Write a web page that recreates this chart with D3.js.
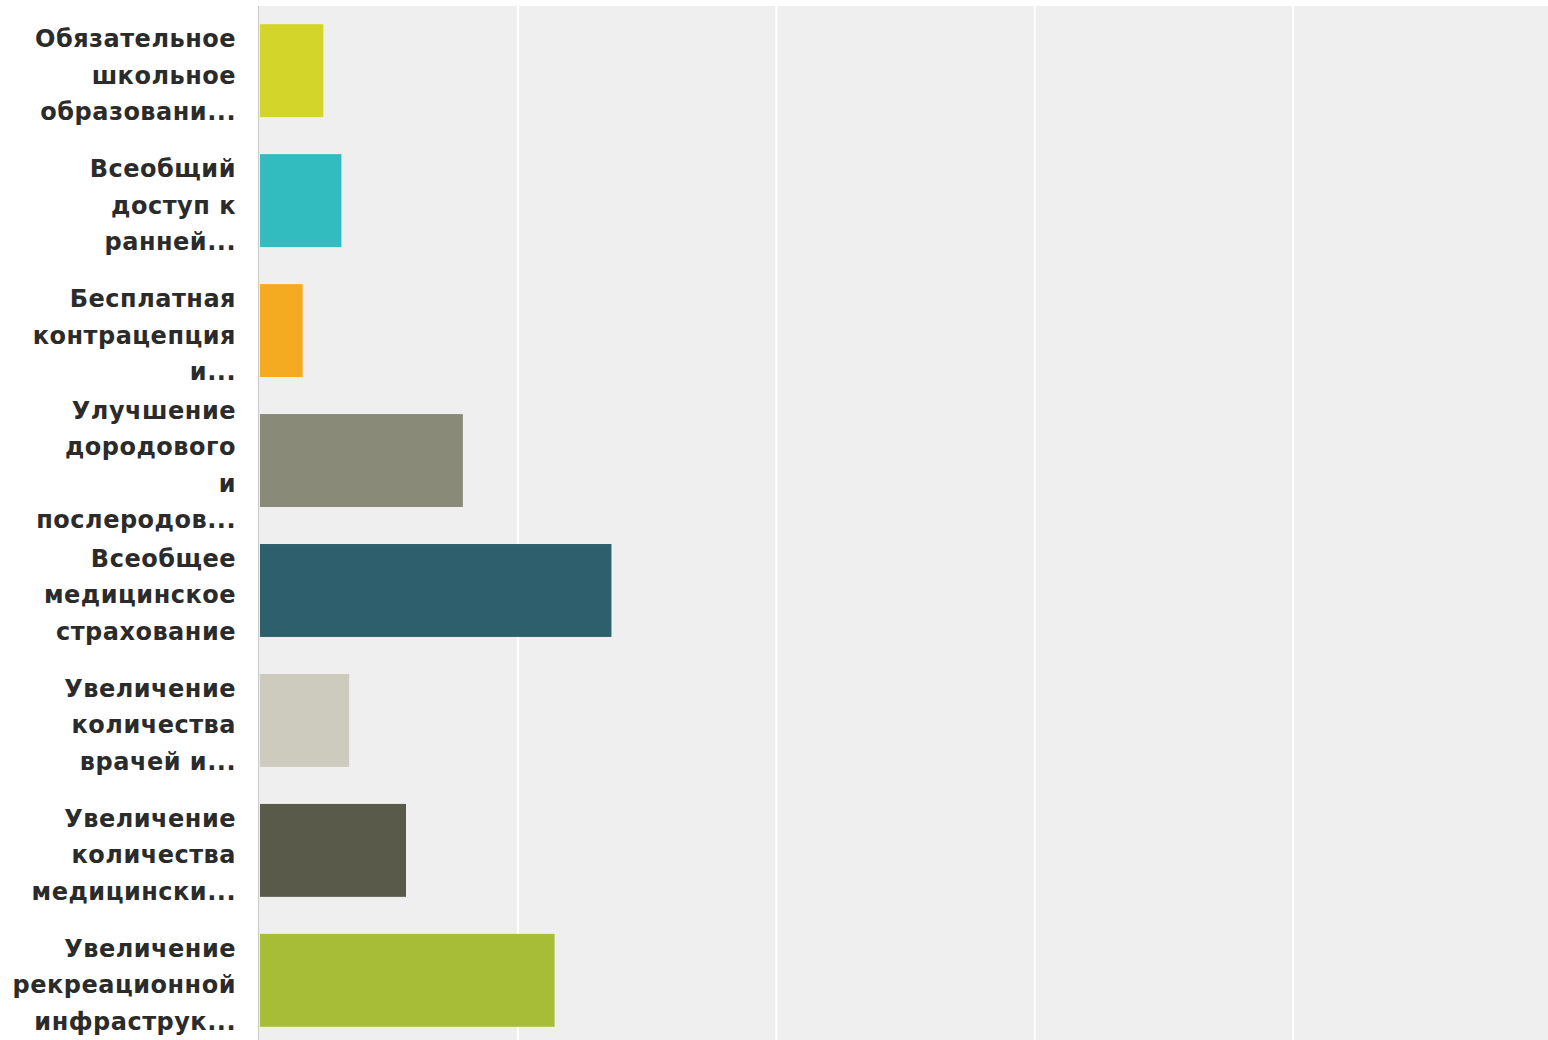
<!DOCTYPE html>
<html>
<head>
<meta charset="utf-8">
<script src="https://cdn.jsdelivr.net/npm/d3@7"></script>
<style>
  html, body { margin: 0; padding: 0; background: #ffffff; overflow: hidden; }
  svg { display: block; }
  .lbl { font-family: "DejaVu Sans", Verdana, sans-serif; font-weight: bold; font-size: 24px; fill: #2b2b2b; letter-spacing: 0.5px; }
</style>
</head>
<body>
<svg id="chart" width="1548" height="1040"></svg>
<script>
const WIDTH  = 1548;
const HEIGHT = 1040;
const PLOTLEFT   = 259;
const PLOTTOP    = 6;
const PLOTRIGHT  = 1551;
const PLOTBOTTOM = 1045;

// category labels, one array of lines each (as wrapped in the original)
var categories = [
    ["Обязательное", "школьное", "образовани..."],
    ["Всеобщий", "доступ к", "ранней..."],
    ["Бесплатная", "контрацепция", "и..."],
    ["Улучшение", "дородового", "и", "послеродов..."],
    ["Всеобщее", "медицинское", "страхование"],
    ["Увеличение", "количества", "врачей и..."],
    ["Увеличение", "количества", "медицински..."],
    ["Увеличение", "рекреационной", "инфраструк..."]
];

// percent of respondents
var values = [4.9, 6.3, 3.3, 15.7, 27.2, 6.9, 11.3, 22.8];

var colours = ["#d3d52b", "#33bcc0", "#f4aa21", "#8a8a78", "#2e5f6d", "#cdcbbd", "#5a5a4a", "#a7bc37"];

var xTicks = [0, 20, 40, 60, 80, 100];

document.addEventListener('DOMContentLoaded', function(){
    drawChart();
}, false);

function drawChart(){
    var vis = d3.select("#chart");

    var xRange = d3.scaleLinear()
        .domain([0, 100])
        .range([PLOTLEFT, PLOTRIGHT]);

    var yRange = d3.scaleBand()
        .domain(d3.range(categories.length))
        .range([PLOTTOP, PLOTBOTTOM])
        .paddingInner(0.285)
        .paddingOuter(0.14);

    // plot background
    vis.append("rect")
        .attr("x", PLOTLEFT)
        .attr("y", PLOTTOP)
        .attr("width", PLOTRIGHT - PLOTLEFT)
        .attr("height", PLOTBOTTOM - PLOTTOP)
        .attr("fill", "#efefef");

    // gridlines
    var xAxis = d3.axisBottom()
        .scale(xRange)
        .tickValues(xTicks.slice(1))
        .tickSize(PLOTBOTTOM - PLOTTOP)
        .tickFormat("");

    var grid = vis.append("g")
        .attr("class", "grid")
        .attr("transform", "translate(0," + PLOTTOP + ")")
        .call(xAxis);
    grid.select(".domain").remove();
    grid.selectAll(".tick line")
        .attr("stroke", "#ffffff")
        .attr("stroke-width", 2);

    // left axis line
    vis.append("line")
        .attr("x1", PLOTLEFT - 0.5).attr("x2", PLOTLEFT - 0.5)
        .attr("y1", PLOTTOP).attr("y2", PLOTBOTTOM)
        .attr("stroke", "#c8c8c8")
        .attr("stroke-width", 1);

    // bars
    vis.selectAll(".bar")
        .data(values)
        .enter()
        .append("rect")
        .attr("class", "bar")
        .attr("x", xRange(0) + 1)
        .attr("y", function(d, i){ return yRange(i); })
        .attr("width", function(d){ return xRange(d) - xRange(0); })
        .attr("height", yRange.bandwidth())
        .attr("fill", function(d, i){ return colours[i]; });

    // labels
    var lineHeight = 36.5;
    categories.forEach(function(lines, i){
        var cy = yRange(i) + yRange.bandwidth() / 2 + 4.5;
        var firstBase = cy - (lines.length - 1) * lineHeight / 2 + 8.5;
        var t = vis.append("text")
            .attr("class", "lbl")
            .attr("text-anchor", "end");
        lines.forEach(function(line, j){
            t.append("tspan")
                .attr("x", 236)
                .attr("y", firstBase + j * lineHeight)
                .text(line);
        });
    });
}
</script>
</body>
</html>
